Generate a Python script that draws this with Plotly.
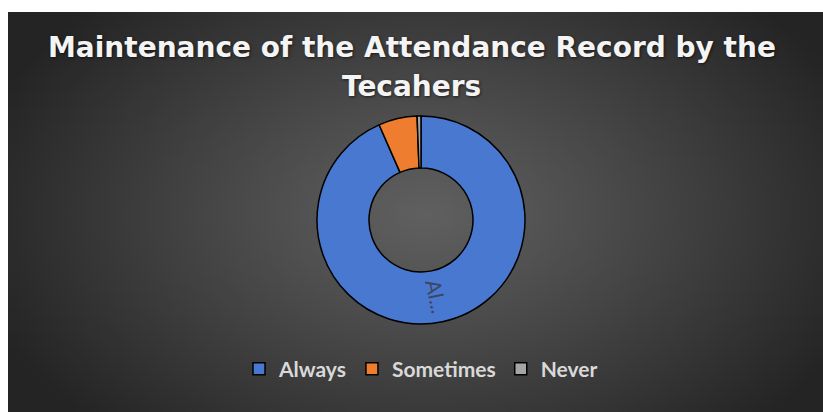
import base64, struct, zlib, math
import numpy as np
import plotly.graph_objects as go

# ---- data ----
categories = ["Always", "Sometimes", "Never"]
values = [93.4, 6.0, 0.6]
slice_text = ["Al...", "", ""]
title_lines = ["Maintenance of the Attendance Record by the", "Tecahers"]
colors = ["#4878d0", "#ee7d2f", "#a5a5a5"]

# ---- radial gradient background as PNG data URI ----
W, H = 204, 100
yy, xx = np.mgrid[0:H, 0:W]
cx, cy = W * 0.51, H * 0.50
r = np.sqrt(((xx - cx) / (W * 0.58)) ** 2 + ((yy - cy) / (H * 0.75)) ** 2)
r = np.clip(r, 0, 1)
val = (96 - (96 - 36) * r ** 1.1).astype(np.uint8)
img = np.dstack([val, val, val])

def png_bytes(arr):
    h, w, _ = arr.shape
    raw = b"".join(b"\x00" + arr[i].tobytes() for i in range(h))
    def chunk(t, d):
        c = struct.pack(">I", len(d)) + t + d
        return c + struct.pack(">I", zlib.crc32(t + d) & 0xFFFFFFFF)
    return (b"\x89PNG\r\n\x1a\n" + chunk(b"IHDR", struct.pack(">IIBBBBB", w, h, 8, 2, 0, 0, 0))
            + chunk(b"IDAT", zlib.compress(raw, 9)) + chunk(b"IEND", b""))

uri = "data:image/png;base64," + base64.b64encode(png_bytes(img)).decode()

FW, FH = 823, 412
HOLE = 0.5
dom_x = [317 / FW, 525 / FW]
dom_y = [(FH - 324) / FH, (FH - 116) / FH]

fig = go.Figure(go.Pie(
    labels=categories,
    values=values,
    textinfo="none",
    hole=HOLE,
    sort=False,
    direction="clockwise",
    rotation=0,
    marker=dict(colors=colors, line=dict(color="#000000", width=1.5)),
    domain=dict(x=dom_x, y=dom_y),
))

# slice label placed at the mid-angle of its slice (computed from the data)
annots = []
total = sum(values)
start = 0.0
pcx = (dom_x[0] + dom_x[1]) / 2 * FW
pcy = FH - (dom_y[0] + dom_y[1]) / 2 * FH
R = (dom_x[1] - dom_x[0]) * FW / 2
for v, t in zip(values, slice_text):
    mid = start + v / total * 180.0
    start += v / total * 360.0
    if not t:
        continue
    rr = R * (1 + HOLE) / 2
    a = math.radians(mid)
    px = pcx + rr * math.sin(a)
    py = pcy - rr * math.cos(a)
    annots.append(dict(text=t, x=px / FW, y=1 - py / FH, xref="paper", yref="paper",
                       showarrow=False, textangle=mid - 90, xanchor="center", yanchor="middle",
                       font=dict(color="#3c4660", size=21, family="Lato")))

tfont = dict(color="#f4f4f4", size=28, family="DejaVu Sans", weight="bold",
             shadow="1px 1px 3px rgba(0,0,0,0.6)")
annots += [
    dict(text=title_lines[0], x=0.5, y=1 - 47.5 / FH, xref="paper", yref="paper",
         xanchor="center", yanchor="middle", showarrow=False, font=tfont),
    dict(text=title_lines[1], x=0.5, y=1 - 86 / FH, xref="paper", yref="paper",
         xanchor="center", yanchor="middle", showarrow=False, font=tfont),
]

fig.update_layout(
    width=FW, height=FH,
    margin=dict(l=0, r=0, t=0, b=0),
    paper_bgcolor="#ffffff",
    showlegend=True,
    legend=dict(orientation="h", x=421 / FW, xanchor="center", y=(FH - 369) / FH, yanchor="middle",
                font=dict(color="#d9d9d9", size=21, family="Lato", weight="bold"),
                bgcolor="rgba(0,0,0,0)"),
    images=[dict(source=uri, xref="paper", yref="paper", x=8 / FW, y=1 - 12 / FH,
                 sizex=(FW - 8) / FW, sizey=(FH - 12) / FH, xanchor="left", yanchor="top",
                 sizing="stretch", layer="below")],
    annotations=annots,
)

fig.write_html("out.html", post_script="document.body.style.margin='0';",
               config={"displayModeBar": False})
